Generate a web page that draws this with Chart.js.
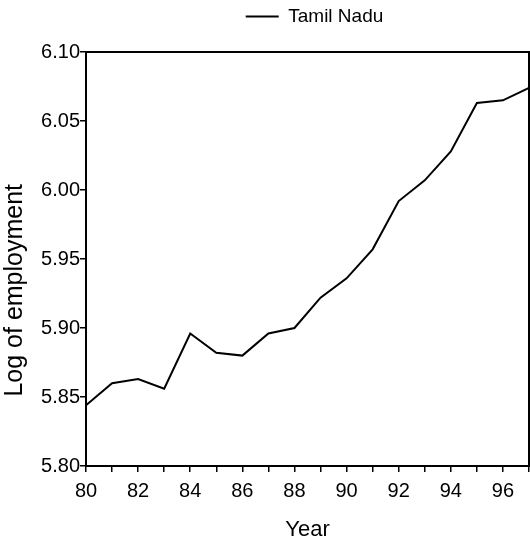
<!DOCTYPE html>
<html>
<head>
<meta charset="utf-8">
<script src="https://cdn.jsdelivr.net/npm/chart.js@4/dist/chart.umd.min.js"></script>
<style>
  html, body { margin: 0; padding: 0; background: #fff; }
  #wrap { width: 530px; height: 545px; }
</style>
</head>
<body>
<div id="wrap"><canvas id="myChart" width="530" height="545"></canvas></div>
<script>
var years = [80, 81, 82, 83, 84, 85, 86, 87, 88, 89, 90, 91, 92, 93, 94, 95, 96, 97];
var logEmployment = [5.844, 5.860, 5.863, 5.856, 5.896, 5.882, 5.880, 5.896, 5.900, 5.922,
                     5.936, 5.957, 5.992, 6.007, 6.028, 6.063, 6.065, 6.074];
var seriesLabel = "Tamil Nadu";
var xTitle = "Year";
// trailing spaces push the rotated title a bit lower, as in the original
var yTitle = "Log of employment         ";

var fontFamily = "'Liberation Sans', Arial, sans-serif";

var getPlotData = (xArr, yArr) => {
    let data = [];
    for (let i = 0; i < xArr.length; i++) {
        data.push({ x: xArr[i], y: yArr[i] });
    }
    return data;
}

// frame round the plot area + nudge the legend over the plot
var framePlugin = {
    id: 'frame',
    afterLayout: (chart) => {
        let lg = chart.legend;
        if (lg) {
            lg.left += 50;
            lg.right += 50;
            lg.top -= 16;
            lg.bottom -= 16;
        }
    },
    afterDatasetsDraw: (chart) => {
        let a = chart.chartArea;
        let ctx = chart.ctx;
        ctx.save();
        ctx.strokeStyle = '#000';
        ctx.lineWidth = 2;
        ctx.strokeRect(a.left, a.top, a.right - a.left, a.bottom - a.top);
        ctx.restore();
    }
}

var ctx = document.getElementById('myChart').getContext('2d');
var myChart = new Chart(ctx, {
    type: 'scatter',
    data: {
        datasets: [{
            label: seriesLabel,
            data: getPlotData(years, logEmployment),
            showLine: true,
            borderColor: '#000',
            backgroundColor: '#000',
            borderWidth: 2,
            pointRadius: 0,
            tension: 0
        }]
    },
    options: {
        responsive: false,
        animation: false,
        layout: { padding: { top: 13, right: 1, left: 0, bottom: 0 } },
        scales: {
            x: {
                type: 'linear',
                min: 80,
                max: 97,
                afterFit: (scale) => {
                    scale.height = 79;
                    scale.paddingLeft = 0;
                    scale.paddingRight = 0;
                },
                grid: { display: true, drawOnChartArea: false, tickLength: 6, color: '#000', lineWidth: 1.5 },
                border: { display: true, color: '#000', width: 2 },
                ticks: {
                    stepSize: 1,
                    autoSkip: false,
                    maxRotation: 0,
                    padding: 7,
                    color: '#000',
                    font: { family: fontFamily, size: 20 },
                    callback: (v) => (v % 2 === 0 ? String(v) : '')
                },
                title: {
                    display: true,
                    text: xTitle,
                    color: '#000',
                    padding: { top: 0, bottom: 2 },
                    font: { family: fontFamily, size: 22 }
                }
            },
            y: {
                min: 5.8,
                max: 6.1,
                afterFit: (scale) => { scale.width = 86; },
                grid: { display: true, drawOnChartArea: false, tickLength: 6, color: '#000', lineWidth: 1.5 },
                border: { display: true, color: '#000', width: 2 },
                ticks: {
                    stepSize: 0.05,
                    padding: 0,
                    color: '#000',
                    font: { family: fontFamily, size: 20 },
                    callback: (v) => v.toFixed(2)
                },
                title: {
                    display: true,
                    text: yTitle,
                    color: '#000',
                    padding: { top: 0, bottom: 0 },
                    font: { family: fontFamily, size: 25 }
                }
            }
        },
        plugins: {
            legend: {
                display: true,
                position: 'top',
                labels: {
                    usePointStyle: true,
                    pointStyle: 'line',
                    pointStyleWidth: 33,
                    padding: 10,
                    color: '#000',
                    font: { family: fontFamily, size: 19 }
                }
            },
            tooltip: { enabled: false }
        }
    },
    plugins: [framePlugin]
});
</script>
</body>
</html>
